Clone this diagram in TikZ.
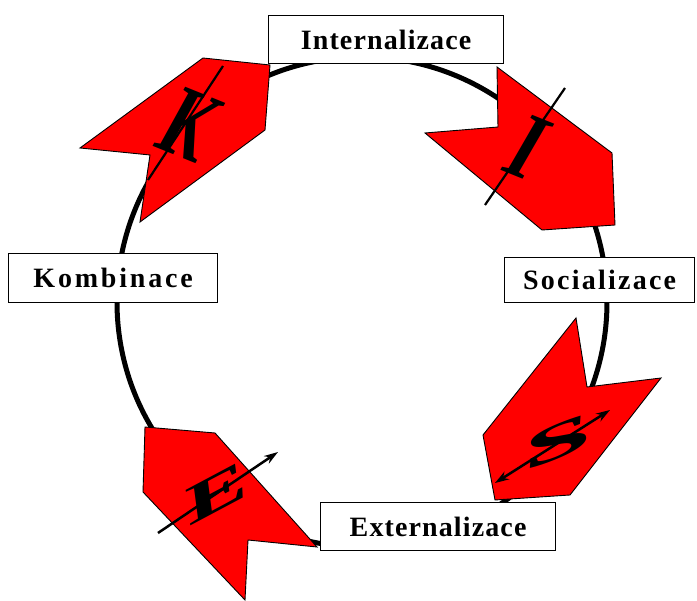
\documentclass[tikz,border=0pt]{standalone}
\usepackage{fontspec}
\setmainfont{Liberation Serif}
\newfontfamily\lblA[LetterSpace=4]{Liberation Serif}
\newfontfamily\lblB[LetterSpace=8]{Liberation Serif}
\newfontfamily\lblC[LetterSpace=10]{Liberation Serif}
\usetikzlibrary{arrows.meta}
\begin{document}
\begin{tikzpicture}[x=1pt,y=-1pt,
  lbl/.style={draw=black, line width=1.2pt, fill=white, inner sep=0pt, anchor=north west,
    font=\bfseries\fontsize{28}{28}\selectfont},
  chevron/.style={fill=red, draw=black, line width=0.9pt, line join=miter},
  ring/.style={draw=black, line width=5pt},
  letter/.style={inner sep=0pt, font=\bfseries\itshape\fontsize{64}{64}\selectfont},
  slash/.style={draw=black, line width=2.2pt},
  swash/.style={draw=black, line width=2.5pt, -{Stealth[length=14pt,width=9pt]}},
  dswash/.style={draw=black, line width=2.5pt, {Stealth[length=14pt,width=9pt]}-{Stealth[length=14pt,width=9pt]}}]
\useasboundingbox (0,0) rectangle (697,601);
\fill[white] (0,0) rectangle (697,601);
% ring
\draw[ring] (362,302) circle[radius=245];
% chevrons
\draw[chevron] (80,148) -- (203,58) -- (270,65) -- (265,130) -- (140,222) -- (150,155) -- cycle;
\draw[chevron] (497,67) -- (612,153) -- (615,225) -- (542,230) -- (425,133) -- (498,127) -- cycle;
\draw[chevron] (576,318) -- (587,387) -- (661,378) -- (570,495) -- (495,500) -- (483,435) -- cycle;
\draw[chevron] (145,427) -- (215,433) -- (317,547) -- (248,540) -- (245,600) -- (143,492) -- cycle;
% letters
\coordinate (k1) at (223,66);
\coordinate (k2) at (148,180);
\draw[slash] (k1) -- (k2);
\node[letter, rotate=-22, xscale=1.1, yscale=1.6] (kk) at (188,124) {K};
\coordinate (i1) at (565,88);
\coordinate (i2) at (485,205);
\draw[slash] (i1) -- (i2);
\node[letter, rotate=-22, xscale=1.2, yscale=1.5] (ii) at (527,147) {I};
\coordinate (s1) at (610,410);
\coordinate (s2) at (495,483);
\draw[dswash] (s2) -- (s1);
\node[letter, rotate=22, xscale=2.1, yscale=0.75] (ss) at (557,442) {S};
\coordinate (e1) at (158,533);
\coordinate (e2) at (278,452);
\draw[swash] (e1) -- (e2);
\node[letter, rotate=28, xscale=1.7, yscale=0.8] (ee) at (216,494) {E};
% labels
\node[lbl, minimum width=235pt, minimum height=48pt] (int) at (268,15) {\lblA Internalizace};
\node[lbl, minimum width=209pt, minimum height=49pt] (kom) at (8,253) {\lblC Kombinace};
\node[lbl, minimum width=190pt, minimum height=45pt] (soc) at (504,257) {\lblB Socializace};
\node[lbl, minimum width=235pt, minimum height=48pt] (ext) at (320,502) {\lblA Externalizace};
\end{tikzpicture}
\end{document}
